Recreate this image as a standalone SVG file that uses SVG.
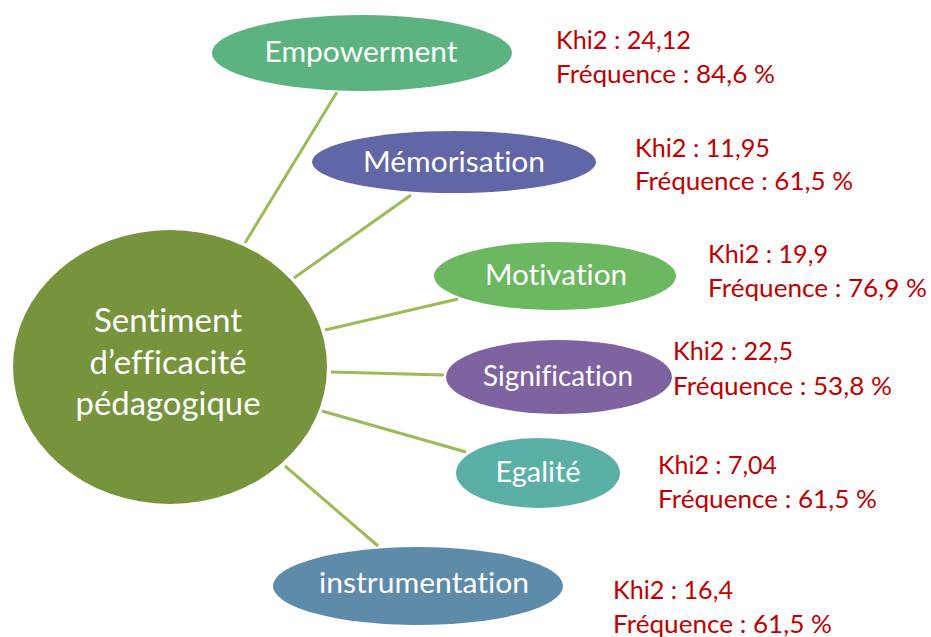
<svg xmlns="http://www.w3.org/2000/svg" width="931" height="637" viewBox="0 0 931 637">
<style>
text{font-variant-ligatures:none}
.lbl{font-family:Lato,"Open Sans","Liberation Sans",sans-serif;fill:#ffffff;text-anchor:middle}
.node{font-size:28px}
.stat{font-family:Lato,"Open Sans","Liberation Sans",sans-serif;fill:#C00000;font-size:25px}
.conn{stroke:#9BBB59;stroke-width:3;fill:none}
</style>
<rect width="931" height="637" fill="#ffffff"/>
<g id="connectors">
<line class="conn" x1="245" y1="243" x2="337" y2="92"/>
<line class="conn" x1="294" y1="278" x2="411" y2="195"/>
<line class="conn" x1="325" y1="330" x2="458" y2="299"/>
<line class="conn" x1="331" y1="372" x2="444" y2="375"/>
<line class="conn" x1="322" y1="411" x2="466" y2="452"/>
<line class="conn" x1="285" y1="466" x2="378" y2="546"/>
</g>
<g id="center">
<ellipse cx="170" cy="367" rx="157" ry="137" fill="#77933C"/>
<text class="lbl" font-size="32" x="168" y="332" textLength="148" lengthAdjust="spacingAndGlyphs">Sentiment</text>
<text class="lbl" font-size="32" x="168" y="374" textLength="157" lengthAdjust="spacingAndGlyphs">d’efficacité</text>
<text class="lbl" font-size="32" x="168" y="415" textLength="185" lengthAdjust="spacingAndGlyphs">pédagogique</text>
</g>
<g id="empowerment">
<ellipse cx="362" cy="53" rx="150" ry="38" fill="#5BB37F"/>
<text class="lbl node" x="361" y="62" textLength="193" lengthAdjust="spacingAndGlyphs">Empowerment</text>
<text class="stat" x="556" y="49" textLength="135" lengthAdjust="spacingAndGlyphs">Khi2 : 24,12</text>
<text class="stat" x="556" y="83" textLength="219" lengthAdjust="spacingAndGlyphs">Fréquence : 84,6 %</text>
</g>
<g id="memorisation">
<ellipse cx="454" cy="162" rx="142" ry="31" fill="#6066A6"/>
<text class="lbl node" x="454" y="172" textLength="182" lengthAdjust="spacingAndGlyphs">Mémorisation</text>
<text class="stat" x="635" y="157" textLength="135" lengthAdjust="spacingAndGlyphs">Khi2 : 11,95</text>
<text class="stat" x="635" y="190" textLength="218" lengthAdjust="spacingAndGlyphs">Fréquence : 61,5 %</text>
</g>
<g id="motivation">
<ellipse cx="555" cy="276" rx="121" ry="34" fill="#6BB860"/>
<text class="lbl node" x="556" y="285" textLength="142" lengthAdjust="spacingAndGlyphs">Motivation</text>
<text class="stat" x="708" y="263" textLength="120" lengthAdjust="spacingAndGlyphs">Khi2 : 19,9</text>
<text class="stat" x="708" y="297" textLength="219" lengthAdjust="spacingAndGlyphs">Fréquence : 76,9 %</text>
</g>
<g id="signification">
<ellipse cx="559" cy="377" rx="113" ry="37" fill="#7F63A1"/>
<text class="lbl node" x="558" y="386" textLength="150" lengthAdjust="spacingAndGlyphs">Signification</text>
<text class="stat" x="673" y="360" textLength="120" lengthAdjust="spacingAndGlyphs">Khi2 : 22,5</text>
<text class="stat" x="673" y="395" textLength="219" lengthAdjust="spacingAndGlyphs">Fréquence : 53,8 %</text>
</g>
<g id="egalite">
<ellipse cx="538" cy="473" rx="82" ry="35" fill="#5BB0A5"/>
<text class="lbl node" x="538" y="482" textLength="85" lengthAdjust="spacingAndGlyphs">Egalité</text>
<text class="stat" x="658" y="474" textLength="119" lengthAdjust="spacingAndGlyphs">Khi2 : 7,04</text>
<text class="stat" x="658" y="508" textLength="219" lengthAdjust="spacingAndGlyphs">Fréquence : 61,5 %</text>
</g>
<g id="instrumentation">
<ellipse cx="418" cy="586" rx="145" ry="39" fill="#5E8BAA"/>
<text class="lbl node" x="424" y="593" textLength="210" lengthAdjust="spacingAndGlyphs">instrumentation</text>
<text class="stat" x="613" y="599" textLength="120" lengthAdjust="spacingAndGlyphs">Khi2 : 16,4</text>
<text class="stat" x="613" y="633" textLength="219" lengthAdjust="spacingAndGlyphs">Fréquence : 61,5 %</text>
</g>
</svg>
